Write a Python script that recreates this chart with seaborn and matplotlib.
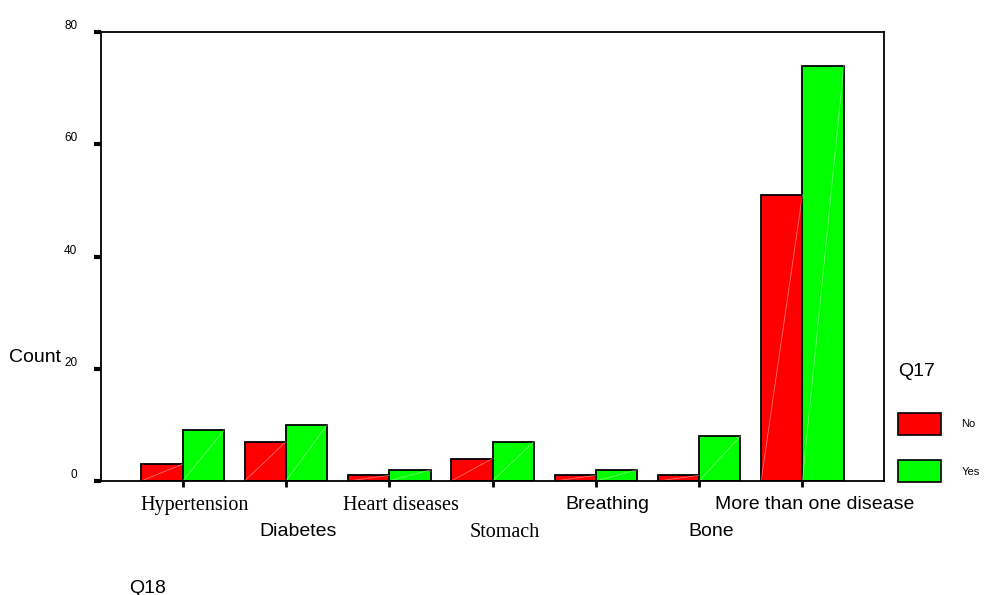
import matplotlib
matplotlib.use("Agg")
import matplotlib.pyplot as plt
import matplotlib.patches as mpatches
from matplotlib.transforms import ScaledTranslation
import seaborn as sns
import pandas as pd

# Disease group (Q18) by response (Q17)
categories = ["Hypertension", "Diabetes", "Heart diseases", "Stomach",
              "Breathing", "Bone", "More than one disease"]
no_counts = [3, 7, 1, 4, 1, 1, 51]
yes_counts = [9, 10, 2, 7, 2, 8, 74]
hue_levels = ["No", "Yes"]
y_ticks = [0, 20, 40, 60, 80]

serif_labels = {"Hypertension", "Heart diseases", "Stomach"}

df = pd.DataFrame({
    "Q18": categories * 2,
    "Count": no_counts + yes_counts,
    "Q17": ["No"] * len(categories) + ["Yes"] * len(categories),
})

sns.set_theme(style="white")
SANS = ["Liberation Sans Narrow", "Liberation Sans", "DejaVu Sans"]
SERIF = ["Liberation Serif", "DejaVu Serif"]
plt.rcParams["font.family"] = SANS
for key in ("text.color", "axes.labelcolor", "xtick.color", "ytick.color"):
    plt.rcParams[key] = "black"

fig = plt.figure(figsize=(9.95, 5.95), dpi=100)
ax = fig.add_axes([0.1015, 0.1916, 0.7870, 0.7546])

palette = {"No": "#ff0000", "Yes": "#00ff00"}
sns.barplot(data=df, x="Q18", y="Count", hue="Q17", order=categories,
            hue_order=hue_levels, palette=palette, width=0.8, gap=0,
            edgecolor="black", linewidth=1.3, saturation=1, ax=ax,
            legend=False)

# faint diagonal highlight across every bar
for p in ax.patches:
    x0, w, h = p.get_x(), p.get_width(), p.get_height()
    ax.plot([x0, x0 + w], [0, h], color="white", lw=0.6, alpha=0.45,
            zorder=p.get_zorder() + 0.1)

ax.set_xlim(-0.79, len(categories) - 1 + 0.79)
ax.set_ylim(0, 80)

for s in ax.spines.values():
    s.set_visible(True)
    s.set_color("black")
    s.set_linewidth(1.3)

# y axis
ax.set_yticks(y_ticks)
ax.set_yticklabels([str(v) for v in y_ticks], fontsize=8.5, family=SANS)
ax.tick_params(axis="y", which="major", left=True, length=5, width=3,
               pad=12, color="black", direction="out")
for lbl in ax.get_yticklabels():
    lbl.set_verticalalignment("bottom")

# staggered category labels: alternate rows using major/minor ticks
idx = list(range(len(categories)))
upper = idx[0::2]
lower = idx[1::2]
ax.set_xticks(upper)
ax.set_xticklabels([categories[i] for i in upper])
ax.set_xticks(lower, minor=True)
ax.set_xticklabels([categories[i] for i in lower], minor=True)
ax.tick_params(axis="x", which="major", bottom=True, length=4, width=2,
               pad=7, color="black")
ax.tick_params(axis="x", which="minor", bottom=True, length=4, width=2,
               pad=26, color="black")
shift = ScaledTranslation(0.12, 0, fig.dpi_scale_trans)
for lbl in ax.get_xticklabels() + ax.get_xticklabels(minor=True):
    if lbl.get_text() in serif_labels:
        lbl.set_family(SERIF)
        lbl.set_fontsize(14.5)
    else:
        lbl.set_family(SANS)
        lbl.set_fontsize(14)
    lbl.set_transform(lbl.get_transform() + shift)

ax.set_xlabel("Q18", fontsize=14, family=SANS)
ax.xaxis.set_label_coords(0.059, -0.22)
ax.set_ylabel("Count", fontsize=14, family=SANS, rotation=0,
              ha="center", va="center")
ax.yaxis.set_label_coords(-0.084, 0.276)

handles = [mpatches.Patch(facecolor=palette[k], edgecolor="black", lw=1.2)
           for k in hue_levels]
leg = ax.legend(handles, hue_levels, title="Q17", frameon=False,
                fontsize=8, title_fontsize=14, handlelength=3.9,
                handleheight=2.67, handletextpad=1.8, labelspacing=2.28,
                loc="upper left", bbox_to_anchor=(1.005, 0.285),
                alignment="left")
# extra room between the legend title and its entries
leg._legend_box.sep = 2.28 * 8 + 5.5
for t in leg.get_texts():
    t.set_family(SANS)
leg.get_title().set_family(SANS)

fig.savefig("out.png", dpi=100, facecolor="white")
